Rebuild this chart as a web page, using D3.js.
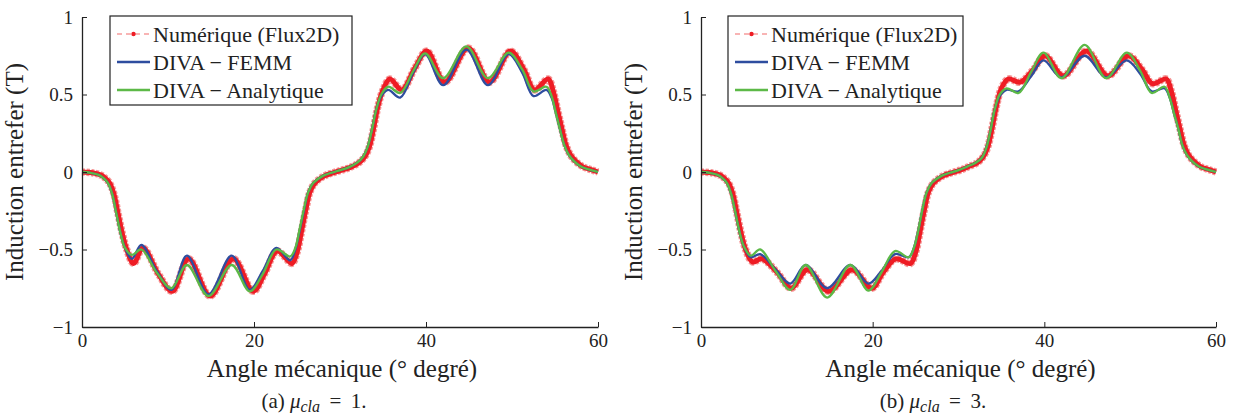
<!DOCTYPE html>
<html><head><meta charset="utf-8">
<script src="https://cdn.jsdelivr.net/npm/d3@7"></script>
<style>
html,body{margin:0;padding:0;background:#fff;}
</style></head>
<body><svg id="chart" width="1236" height="419"></svg>
<script>
// ---------- data ----------
const xTicks = [0, 20, 40, 60];
const yTicks = [1, 0.5, 0, -0.5, -1];
const yTickLabels = ["1", "0.5", "0", "\u22120.5", "\u22121"];
const seriesNames = ["Num\u00e9rique (Flux2D)", "DIVA \u2212 FEMM", "DIVA \u2212 Analytique"];
const panelCaptions = ["(a)", "(b)"];
const panelMu = ["1.", "3."];

const anglesDiva = [0, 1, 2, 2.5, 3, 3.5, 4, 4.5, 5, 5.8, 6.9, 8.7, 10.4, 12.2, 14.7, 17.4, 19.5, 21.0, 22.6, 24.2,
  24.8, 25.3, 25.8, 26.3, 26.9, 28, 29, 30, 31, 32, 32.7, 33.2, 33.7, 34.2, 34.8, 35.6, 37.0, 38.5, 39.9, 42.0,
  44.7, 47.2, 49.6, 51.2, 52.5, 54.0, 54.6, 55.1, 55.6, 56.1, 56.6, 57.2, 58, 59, 60];
const anglesFlux = [0, 1.2, 2.2, 2.7, 3.2, 3.7, 4.2, 4.7, 5.2, 6.0, 7.1, 8.9, 10.5, 12.4, 14.9, 17.6, 19.9, 21.2, 22.7, 24.4,
  25.0, 25.5, 26.0, 26.5, 27.1, 28.2, 29.2, 30.2, 31.2, 32.2, 32.9, 33.4, 33.9, 34.4, 35.0, 35.8, 37.2, 38.7, 40.1, 42.2,
  44.9, 47.4, 49.8, 51.4, 52.6, 54.2, 54.8, 55.3, 55.8, 56.3, 56.8, 57.4, 58.2, 59.2, 60];

// panel (a) mu = 1
const fluxA = [0, -0.005, -0.02, -0.04, -0.07, -0.14, -0.27, -0.40, -0.50, -0.59, -0.49, -0.66, -0.77, -0.56, -0.80, -0.56, -0.77, -0.66, -0.51, -0.59,
  -0.52, -0.39, -0.25, -0.13, -0.07, -0.025, -0.005, 0.012, 0.03, 0.06, 0.10, 0.16, 0.28, 0.42, 0.53, 0.60, 0.53, 0.67, 0.78, 0.58,
  0.80, 0.58, 0.78, 0.66, 0.53, 0.60, 0.52, 0.40, 0.28, 0.17, 0.11, 0.07, 0.035, 0.015, 0];
const femmA = [0, -0.005, -0.02, -0.04, -0.07, -0.14, -0.27, -0.40, -0.49, -0.56, -0.47, -0.64, -0.76, -0.54, -0.79, -0.54, -0.76, -0.64, -0.49, -0.57,
  -0.50, -0.38, -0.25, -0.13, -0.07, -0.025, -0.005, 0.012, 0.03, 0.06, 0.10, 0.16, 0.27, 0.40, 0.49, 0.53, 0.48, 0.64, 0.76, 0.56,
  0.79, 0.56, 0.76, 0.64, 0.49, 0.53, 0.48, 0.38, 0.27, 0.17, 0.11, 0.07, 0.035, 0.015, 0];
const analA = [0, -0.005, -0.02, -0.04, -0.07, -0.14, -0.27, -0.40, -0.49, -0.535, -0.50, -0.65, -0.75, -0.60, -0.80, -0.60, -0.77, -0.66, -0.50, -0.545,
  -0.49, -0.37, -0.24, -0.13, -0.07, -0.025, -0.005, 0.012, 0.03, 0.06, 0.10, 0.16, 0.27, 0.40, 0.50, 0.55, 0.51, 0.65, 0.765, 0.605,
  0.81, 0.605, 0.77, 0.66, 0.52, 0.55, 0.49, 0.38, 0.27, 0.17, 0.11, 0.07, 0.035, 0.015, 0];

// panel (b) mu = 3
const fluxB = [0, -0.005, -0.02, -0.04, -0.07, -0.14, -0.27, -0.40, -0.50, -0.58, -0.56, -0.65, -0.75, -0.63, -0.77, -0.63, -0.75, -0.65, -0.56, -0.59,
  -0.52, -0.39, -0.25, -0.13, -0.07, -0.025, -0.005, 0.012, 0.035, 0.06, 0.10, 0.16, 0.28, 0.42, 0.54, 0.60, 0.58, 0.66, 0.75, 0.62,
  0.78, 0.62, 0.75, 0.66, 0.57, 0.60, 0.52, 0.40, 0.28, 0.17, 0.11, 0.07, 0.035, 0.015, 0];
const femmB = [0, -0.005, -0.02, -0.04, -0.07, -0.14, -0.26, -0.39, -0.48, -0.55, -0.53, -0.63, -0.72, -0.60, -0.75, -0.60, -0.72, -0.64, -0.53, -0.55,
  -0.49, -0.38, -0.24, -0.13, -0.07, -0.025, -0.005, 0.012, 0.035, 0.06, 0.09, 0.15, 0.26, 0.40, 0.49, 0.53, 0.52, 0.62, 0.72, 0.61,
  0.75, 0.61, 0.72, 0.63, 0.52, 0.54, 0.48, 0.38, 0.28, 0.17, 0.11, 0.07, 0.035, 0.015, 0];
const analB = [0, -0.005, -0.02, -0.04, -0.07, -0.14, -0.26, -0.39, -0.48, -0.54, -0.50, -0.64, -0.76, -0.60, -0.81, -0.60, -0.765, -0.65, -0.51, -0.55,
  -0.49, -0.38, -0.24, -0.13, -0.07, -0.025, -0.005, 0.012, 0.035, 0.06, 0.09, 0.15, 0.26, 0.40, 0.50, 0.54, 0.51, 0.65, 0.77, 0.605,
  0.82, 0.605, 0.77, 0.65, 0.51, 0.55, 0.48, 0.38, 0.28, 0.17, 0.11, 0.07, 0.035, 0.015, 0];

// ---------- drawing ----------
const FONT = "'Liberation Serif', 'Times New Roman', Times, Tinos, 'Noto Serif', 'DejaVu Serif', FreeSerif, serif";
const svg = d3.select("#chart");
const panels = [
  {x0: 82, x1: 598, capX: 314, flux: fluxA, femm: femmA, anal: analA, legend: [110, 16, 242, 89], cap: panelCaptions[0], mu: panelMu[0]},
  {x0: 701, x1: 1216, capX: 933, flux: fluxB, femm: femmB, anal: analB, legend: [728, 16, 235, 90], cap: panelCaptions[1], mu: panelMu[1]}
];
const yTop = 17, yBot = 327;
const RED = "#ee1c24", REDL = "#f59a9a", BLUE = "#2e4d9f", GREEN = "#5cb947";

panels.forEach(p => {
  const x = d3.scaleLinear().domain([0, 60]).range([p.x0, p.x1]);
  const y = d3.scaleLinear().domain([-1, 1]).range([yBot, yTop]);
  const g = svg.append("g");
  const line = d3.line().x(d => x(d[0])).y(d => y(d[1])).curve(d3.curveCatmullRom.alpha(0.5));

  const flux = d3.zip(anglesFlux, p.flux);
  const femm = d3.zip(anglesDiva, p.femm);
  const anal = d3.zip(anglesDiva, p.anal);

  g.append("path").datum(flux).attr("d", line).attr("fill", "none")
    .attr("stroke", REDL).attr("stroke-width", 7.5).attr("stroke-dasharray", "3,1.5");
  g.append("path").datum(flux).attr("d", line).attr("fill", "none")
    .attr("stroke", RED).attr("stroke-width", 5);
  g.append("path").datum(femm).attr("d", line).attr("fill", "none")
    .attr("stroke", BLUE).attr("stroke-width", 2.3);
  g.append("path").datum(anal).attr("d", line).attr("fill", "none")
    .attr("stroke", GREEN).attr("stroke-width", 2.3);

  // axes
  const xAxis = d3.axisBottom(x).tickValues(xTicks).tickSizeInner(-5).tickSizeOuter(0).tickPadding(7).tickFormat(d3.format("d"));
  const gx = g.append("g").attr("transform", `translate(0,${yBot})`).call(xAxis);
  const yAxis = d3.axisLeft(y).tickValues(yTicks).tickSizeInner(-5).tickSizeOuter(0).tickPadding(9)
    .tickFormat((d, i) => yTickLabels[i]);
  const gy = g.append("g").attr("transform", `translate(${p.x0},0)`).call(yAxis);
  [gx, gy].forEach(a => {
    a.attr("font-family", FONT);
    a.select(".domain").attr("stroke", "#222").attr("stroke-width", 1.3);
    a.selectAll(".tick line").attr("stroke", "#222");
    a.selectAll(".tick text").attr("font-family", FONT).attr("font-size", 19).attr("fill", "#222");
  });
  gx.selectAll(".tick text").attr("dy", "0.7em");

  // legend
  const [lx, ly, lw, lh] = p.legend;
  const lg = g.append("g");
  lg.append("rect").attr("x", lx).attr("y", ly).attr("width", lw).attr("height", lh)
    .attr("fill", "#fff").attr("stroke", "#222").attr("stroke-width", 1.2);
  const rows = [ly + 18, ly + 46, ly + 74];
  seriesNames.forEach((name, i) => {
    const ry = rows[i];
    if (i === 0) {
      lg.append("line").attr("x1", lx + 7).attr("x2", lx + 40).attr("y1", ry).attr("y2", ry)
        .attr("stroke", "#f26b6b").attr("stroke-width", 1.2).attr("stroke-dasharray", "5,4");
      lg.append("circle").attr("cx", lx + 23.5).attr("cy", ry).attr("r", 2.2).attr("fill", RED);
    } else {
      lg.append("line").attr("x1", lx + 7).attr("x2", lx + 40).attr("y1", ry).attr("y2", ry)
        .attr("stroke", i === 1 ? BLUE : GREEN).attr("stroke-width", 2.3);
    }
    lg.append("text").attr("x", lx + 43).attr("y", ry).attr("dy", "0.35em")
      .attr("font-family", FONT).attr("font-size", 22).attr("fill", "#222").text(name);
  });

  // axis labels
  const cx = (p.x0 + p.x1) / 2;
  g.append("text").attr("x", cx + 2).attr("y", 377).attr("text-anchor", "middle")
    .attr("font-family", FONT).attr("font-size", 25).attr("fill", "#222")
    .text("Angle m\u00e9canique (\u00b0 degr\u00e9)");
  g.append("text").attr("transform", `translate(${p.x0 - 59},${(yTop + yBot) / 2}) rotate(-90)`)
    .attr("text-anchor", "middle").attr("font-family", FONT).attr("font-size", 25).attr("fill", "#222")
    .text("Induction entrefer (T)");

  // caption
  const cap = g.append("text").attr("x", p.capX).attr("y", 408).attr("text-anchor", "middle")
    .attr("font-family", FONT).attr("font-size", 21).attr("fill", "#222");
  cap.append("tspan").text(p.cap + "  ");
  cap.append("tspan").attr("font-style", "italic").text("\u03bc");
  cap.append("tspan").attr("font-style", "italic").attr("font-size", 16).attr("dy", 4).text("cla");
  cap.append("tspan").attr("dy", -4).text(" \u2009=\u2009 " + p.mu);
});
</script>
</body></html>
